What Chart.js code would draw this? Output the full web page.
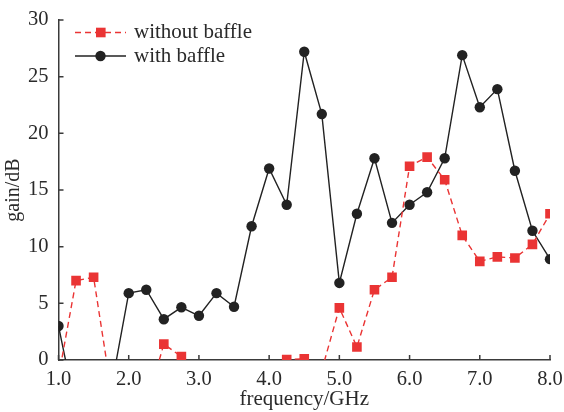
<!DOCTYPE html>
<html><head><meta charset="utf-8">
<script src="https://cdn.jsdelivr.net/npm/chart.js@4/dist/chart.umd.min.js"></script>
<style>html,body{margin:0;padding:0;background:#fff}#wrap{width:564px;height:412px}</style>
</head><body><div id="wrap"><canvas id="c" width="564" height="412"></canvas></div>
<script>
const frequency = [1.0,1.25,1.5,1.75,2.0,2.25,2.5,2.75,3.0,3.25,3.5,3.75,4.0,4.25,4.5,4.75,5.0,5.25,5.5,5.75,6.0,6.25,6.5,6.75,7.0,7.25,7.5,7.75,8.0];
const withoutBaffle = [-1.5,7.0,7.3,-2.7,-5,-4,1.4,0.3,-2,-3,-2,-3,-1,0.05,0.1,-0.9,4.6,1.15,6.2,7.3,17.1,17.9,15.9,11.0,8.7,9.1,9.0,10.2,12.9];
const withBaffle = [3.0,-4.5,-5,-2.5,5.9,6.2,3.6,4.65,3.9,5.9,4.7,11.8,16.9,13.7,27.2,21.7,6.8,12.9,17.8,12.1,13.7,14.8,17.8,26.9,22.3,23.9,16.7,11.4,8.9];
const xTicks = [1,2,3,4,5,6,7,8];
const yTicks = [0,5,10,15,20,25,30];
const seriesNames = ['without baffle','with baffle'];

const RED = '#ea3434', BLACK = '#222222', AXIS = '#3a3a3a', TXT = '#2a2a2a';
const FONT = 'Liberation Serif';

const innerTicks = {
  id:'innerTicks',
  afterDatasetsDraw(chart){
    const ctx = chart.ctx, a = chart.chartArea, xs = chart.scales.x, ys = chart.scales.y;
    ctx.save();
    ctx.strokeStyle = AXIS; ctx.lineWidth = 1.5;
    ctx.beginPath();
    xTicks.forEach(v=>{const p = xs.getPixelForValue(v); ctx.moveTo(p, a.bottom); ctx.lineTo(p, a.bottom-5);});
    yTicks.forEach(v=>{const p = ys.getPixelForValue(v); ctx.moveTo(a.left, p); ctx.lineTo(a.left+5, p);});
    ctx.stroke();
    const rows = [
      {y: a.top + 12.5, color: RED, dash:[6,4], style:'rect', name: seriesNames[0]},
      {y: a.top + 36, color: BLACK, dash:[], style:'circle', name: seriesNames[1]}
    ];
    rows.forEach(r=>{
      ctx.save();
      ctx.strokeStyle = r.color; ctx.lineWidth = 1.4; ctx.setLineDash(r.dash);
      ctx.beginPath(); ctx.moveTo(75, r.y); ctx.lineTo(126, r.y); ctx.stroke();
      ctx.restore();
      ctx.fillStyle = r.color;
      if (r.style==='rect'){ ctx.fillRect(96, r.y-4.8, 9.6, 9.6); }
      else { ctx.beginPath(); ctx.arc(100.5, r.y, 5.2, 0, Math.PI*2); ctx.fill(); }
      ctx.fillStyle = TXT; ctx.font = '21px "'+FONT+'"'; ctx.textBaseline='middle'; ctx.textAlign='left';
      ctx.fillText(r.name, 134, r.y);
    });
    ctx.restore();
  }
};

new Chart(document.getElementById('c'), {
  type:'line',
  data:{
    datasets:[
      {label: seriesNames[0], data: frequency.map((f,i)=>({x:f,y:withoutBaffle[i]})),
       borderColor: RED, backgroundColor: RED, borderWidth:1.4, borderDash:[6,4],
       pointStyle:'rect', pointRadius:6.8, pointBorderWidth:0, tension:0},
      {label: seriesNames[1], data: frequency.map((f,i)=>({x:f,y:withBaffle[i]})),
       borderColor: BLACK, backgroundColor: BLACK, borderWidth:1.4,
       pointStyle:'circle', pointRadius:5.2, pointBorderWidth:0, tension:0}
    ]
  },
  options:{
    responsive:false, animation:false,
    layout:{padding:{left:2,right:14,top:20,bottom:0}},
    plugins:{legend:{display:false}, tooltip:{enabled:false}},
    scales:{
      x:{type:'linear', min:1, max:8,
         afterBuildTicks(s){ s.ticks = xTicks.map(v=>({value:v})); },
         afterFit(s){ s.height = 52; s.paddingRight = 0; s.paddingLeft = 0; },
         grid:{display:false, drawTicks:false},
         border:{display:true, color:AXIS, width:1.5},
         ticks:{padding:7, color:TXT, font:{family:FONT, size:20.5}, maxRotation:0, callback:v=>Number(v).toFixed(1)},
         title:{display:true, text:'frequency/GHz', color:TXT, font:{family:FONT, size:21}, padding:{top:0,bottom:0}}
      },
      y:{type:'linear', min:0, max:30,
         afterBuildTicks(s){ s.ticks = yTicks.map(v=>({value:v})); },
         afterFit(s){ s.width = 56.5; s.paddingTop = 0; s.paddingBottom = 0; },
         grid:{display:false, drawTicks:false},
         border:{display:true, color:AXIS, width:1.5},
         ticks:{padding:10, color:TXT, font:{family:FONT, size:20.5}},
         title:{display:true, text:'gain/dB', color:TXT, font:{family:FONT, size:20}, padding:{top:0,bottom:0}}
      }
    }
  },
  plugins:[innerTicks]
});
</script></body></html>
